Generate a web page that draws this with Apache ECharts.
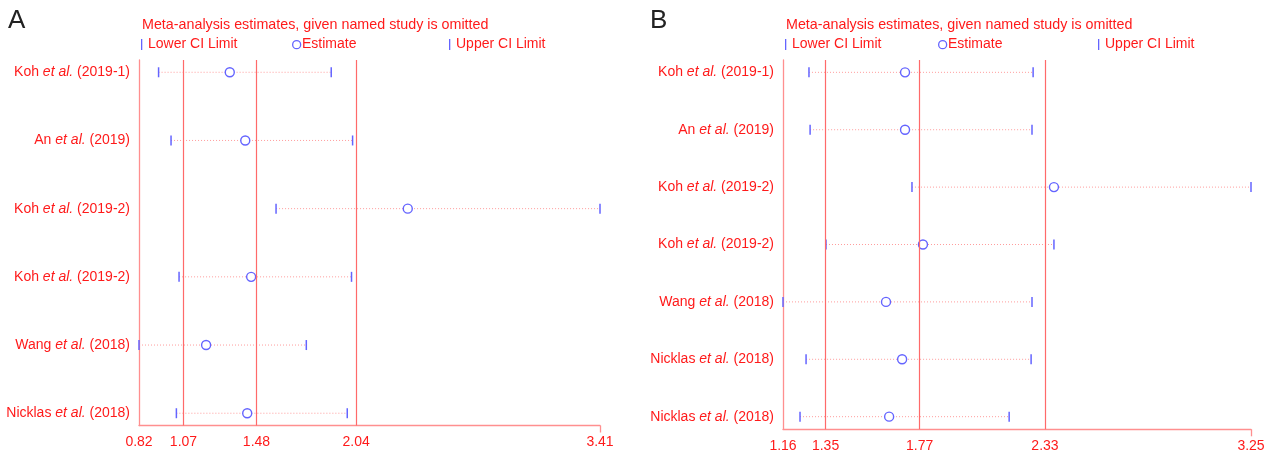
<!DOCTYPE html>
<html>
<head>
<meta charset="utf-8">
<script src="https://cdn.jsdelivr.net/npm/echarts@6/dist/echarts.min.js"></script>
<style>html,body{margin:0;padding:0;background:#fff;}#c{width:1280px;height:457px;}</style>
</head>
<body>
<div id="c"></div>
<script>
// ---- Panel A data ----
const authorsA = ['Koh', 'An', 'Koh', 'Koh', 'Wang', 'Nicklas'];
const yearsA   = ['(2019-1)', '(2019)', '(2019-2)', '(2019-2)', '(2018)', '(2018)'];
const lowerA   = [0.93, 1.00, 1.59, 1.045, 0.82, 1.03];
const estA     = [1.33, 1.417, 2.33, 1.45, 1.197, 1.428];
const upperA   = [1.90, 2.02, 3.41, 2.014, 1.76, 1.99];
const ticksA   = [0.82, 1.07, 1.48, 2.04, 3.41];

// ---- Panel B data ----
const authorsB = ['Koh', 'An', 'Koh', 'Koh', 'Wang', 'Nicklas', 'Nicklas'];
const yearsB   = ['(2019-1)', '(2019)', '(2019-2)', '(2019-2)', '(2018)', '(2018)', '(2018)'];
const lowerB   = [1.276, 1.281, 1.736, 1.352, 1.16, 1.263, 1.236];
const estB     = [1.705, 1.705, 2.37, 1.785, 1.62, 1.692, 1.634];
const upperB   = [2.277, 2.272, 3.25, 2.37, 2.272, 2.268, 2.17];
const ticksB   = [1.16, 1.35, 1.77, 2.33, 3.25];

const titleText = 'Meta-analysis estimates, given named study is omitted';
const legendLabels = ['Lower CI Limit', 'Estimate', 'Upper CI Limit'];

const RED = '#ff1a1a';
const AXIS = '#ff8f8f';
const VLINE = '#ff6a6a';
const BLUE = '#6464ff';
const FONT = '"Liberation Sans", Arial, sans-serif';

function richLabel(authors, years) {
  return function (v) {
    const i = Math.round(v);
    return '{n|' + authors[i] + ' }{i|et al.}{n| ' + years[i] + '}';
  };
}
const rich = {
  n: { color: RED, fontFamily: FONT, fontSize: 14 },
  i: { color: RED, fontFamily: FONT, fontSize: 14, fontStyle: 'italic' }
};

function renderCI(params, api) {
  const y = api.value(0);
  const p1 = api.coord([api.value(1), y]);
  const pe = api.coord([api.value(2), y]);
  const p2 = api.coord([api.value(3), y]);
  return {
    type: 'group',
    children: [
      { type: 'line', shape: { x1: p1[0], y1: p1[1], x2: p2[0], y2: p2[1] },
        style: { stroke: '#ff9c9c', lineWidth: 1, lineDash: [1, 2] } },
      { type: 'line', shape: { x1: p1[0], y1: p1[1] - 5, x2: p1[0], y2: p1[1] + 5 },
        style: { stroke: BLUE, lineWidth: 1.5 } },
      { type: 'line', shape: { x1: p2[0], y1: p2[1] - 5, x2: p2[0], y2: p2[1] + 5 },
        style: { stroke: BLUE, lineWidth: 1.5 } },
      { type: 'circle', shape: { cx: pe[0], cy: pe[1], r: 4.5 },
        style: { fill: '#fff', stroke: BLUE, lineWidth: 1.4 } }
    ]
  };
}

function xAxisCfg(idx, ticks) {
  return {
    type: 'value', gridIndex: idx, position: 'bottom', min: ticks[0], max: ticks[ticks.length - 1],
    axisLine: { show: true, onZero: false, lineStyle: { color: AXIS, width: 1.3 } },
    axisTick: { show: true, customValues: [ticks[ticks.length - 1]], length: 7, lineStyle: { color: AXIS, width: 1.3 } },
    axisLabel: { customValues: ticks, formatter: v => v.toFixed(2), color: RED, fontFamily: FONT, fontSize: 14, margin: 10 },
    splitLine: { show: false }
  };
}
function yAxisCfg(idx, n, minV, maxV, authors, years) {
  return {
    type: 'value', gridIndex: idx, position: 'left', inverse: true, min: minV, max: maxV,
    axisLine: { show: true, onZero: false, lineStyle: { color: AXIS, width: 1.3 } },
    axisTick: { show: false },
    axisLabel: { customValues: Array.from({ length: n }, (_, i) => i), formatter: richLabel(authors, years), rich: rich, margin: 9 },
    splitLine: { show: false }
  };
}
function ciSeries(idx, low, est, up, ticks) {
  return {
    type: 'custom', xAxisIndex: idx, yAxisIndex: idx,
    renderItem: renderCI,
    encode: { x: [1, 2, 3], y: 0 },
    data: low.map((l, i) => [i, l, est[i], up[i]]),
    clip: false, z: 3,
    markLine: {
      silent: true, symbol: 'none', label: { show: false },
      lineStyle: { color: VLINE, width: 1.2, type: 'solid' },
      data: ticks.slice(1, ticks.length - 1).map(t => ({ xAxis: t }))
    }
  };
}

function header(x0, letter, offs) {
  return [
    { type: 'text', left: x0 - offs.letter, top: 8, style: { text: letter, fill: '#222', font: '26px ' + FONT } },
    { type: 'text', left: x0 + 3, top: 18, style: { text: titleText, fill: RED, font: '14.3px ' + FONT } },
    { type: 'rect', left: x0 + 2, top: 39, shape: { width: 1.3, height: 11 }, style: { fill: BLUE } },
    { type: 'text', left: x0 + 9, top: 37, style: { text: legendLabels[0], fill: RED, font: '14px ' + FONT } },
    { type: 'circle', left: x0 + offs.est, top: 40, shape: { r: 4 }, style: { fill: '#fff', stroke: BLUE, lineWidth: 1.3 } },
    { type: 'text', left: x0 + offs.est + 10, top: 37, style: { text: legendLabels[1], fill: RED, font: '14px ' + FONT } },
    { type: 'rect', left: x0 + offs.up, top: 39, shape: { width: 1.3, height: 11 }, style: { fill: BLUE } },
    { type: 'text', left: x0 + offs.up + 7, top: 37, style: { text: legendLabels[2], fill: RED, font: '14px ' + FONT } }
  ];
}

const chart = echarts.init(document.getElementById('c'), null, { renderer: 'canvas' });
chart.setOption({
  animation: false,
  backgroundColor: '#fff',
  grid: [
    { left: 139, right: 680, top: 60, bottom: 31.5 },
    { left: 783, right: 29, top: 60, bottom: 27.7 }
  ],
  xAxis: [xAxisCfg(0, ticksA), xAxisCfg(1, ticksB)],
  yAxis: [
    yAxisCfg(0, authorsA.length, -0.18, 5.18, authorsA, yearsA),
    yAxisCfg(1, authorsB.length, -0.215, 6.22, authorsB, yearsB)
  ],
  series: [
    ciSeries(0, lowerA, estA, upperA, ticksA),
    ciSeries(1, lowerB, estB, upperB, ticksB)
  ],
  graphic: header(139, 'A', { letter: 131, est: 153, up: 310 }).concat(header(783, 'B', { letter: 133, est: 155, up: 315 }))
});
</script>
</body>
</html>
